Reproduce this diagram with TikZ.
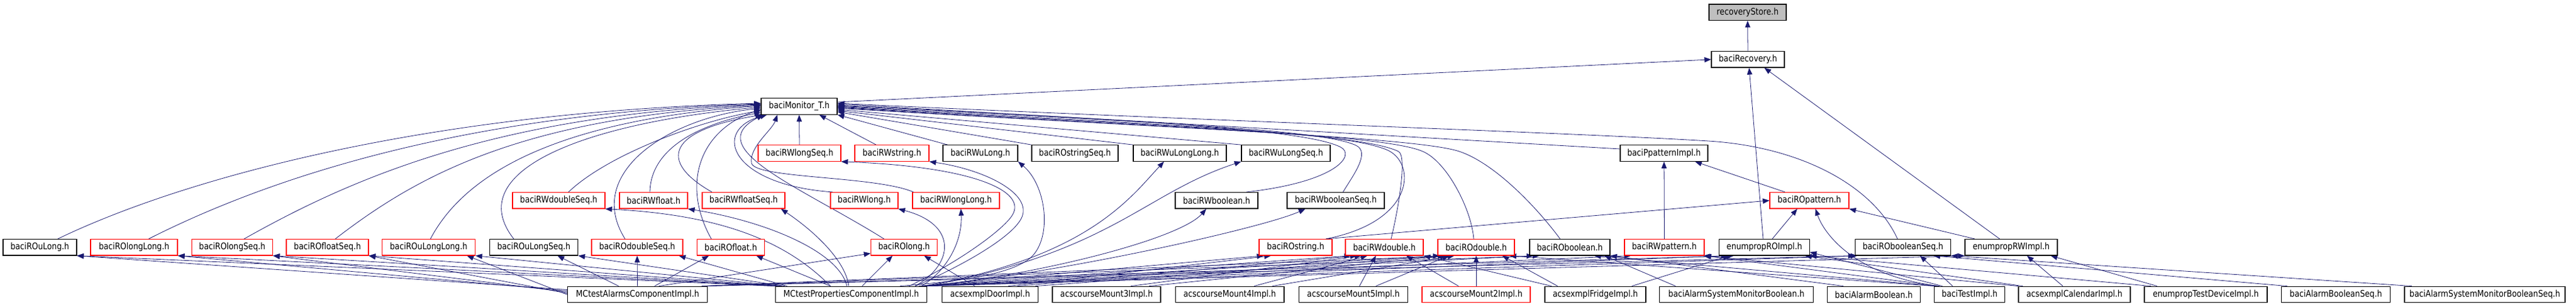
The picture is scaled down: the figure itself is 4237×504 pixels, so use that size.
\documentclass[tikz,border=0pt]{standalone}
\usepackage{fontspec}
\newfontfamily\nodefont[FakeStretch=0.85]{DejaVu Sans}
\usetikzlibrary{arrows.meta}
\definecolor{edgec}{HTML}{191970}
\definecolor{nodered}{HTML}{FF0000}
\definecolor{rootgray}{HTML}{BFBFBF}
\pgfdeclarelayer{background}
\pgfsetlayers{background,main}
\tikzset{
  box/.style={draw=black, fill=white, line width=1.2pt, minimum height=26.5pt, inner sep=0pt,
    font={\nodefont\fontsize{15pt}{18pt}\selectfont}, text=black},
  redbox/.style={box, draw=nodered},
  rootbox/.style={box, fill=rootgray},
  inc/.style={{Triangle[length=11pt,width=8.5pt]}-, draw=edgec, line width=0.8pt},
}
\begin{document}
\begin{tikzpicture}[x=1pt,y=1pt]
\useasboundingbox (0,0) rectangle (4237,504);

% ---------- row 0 - 2
\node[rootbox, minimum width=127pt] (rstore) at (2874.5,483.7) {recoveryStore.h};
\node[box, minimum width=120pt] (recov) at (2875,406.2) {baciRecovery.h};
\node[box, minimum width=125pt] (mon) at (1314.5,329) {baciMonitor\_T.h};

% ---------- row 3
\node[redbox, minimum width=136pt] (rwlongseq) at (1315,252) {baciRWlongSeq.h};
\node[redbox, minimum width=122pt] (rwstring) at (1467,252) {baciRWstring.h};
\node[box, minimum width=123pt] (rwulong) at (1612.5,252) {baciRWuLong.h};
\node[box, minimum width=142pt] (rostringseq) at (1768,252) {baciROstringSeq.h};
\node[box, minimum width=153pt] (rwulonglong) at (1940.5,252) {baciRWuLongLong.h};
\node[box, minimum width=146pt] (rwulongseq) at (2115,252) {baciRWuLongSeq.h};
\node[box, minimum width=144pt] (ppimpl) at (2737,252) {baciPpatternImpl.h};

% ---------- row 4
\node[redbox, minimum width=152pt] (rwdoubleseq) at (919,174.2) {baciRWdoubleSeq.h};
\node[redbox, minimum width=112pt] (rwfloat) at (1075,174.2) {baciRWfloat.h};
\node[redbox, minimum width=136pt] (rwfloatseq) at (1223,174.2) {baciRWfloatSeq.h};
\node[redbox, minimum width=111pt] (rwlong) at (1421.5,174.2) {baciRWlong.h};
\node[redbox, minimum width=143pt] (rwlonglong) at (1572.5,174.2) {baciRWlongLong.h};
\node[box, minimum width=136pt] (rwboolean) at (2001,174.2) {baciRWboolean.h};
\node[box, minimum width=160pt] (rwbooleanseq) at (2197,174.2) {baciRWbooleanSeq.h};
\node[redbox, minimum width=130pt] (ropattern) at (2976,174.2) {baciROpattern.h};

% ---------- row 5
\node[box, minimum width=121pt] (rouLong) at (65.5,97.2) {baciROuLong.h};
\node[redbox, minimum width=143pt] (rolonglong) at (220.5,97.2) {baciROlongLong.h};
\node[redbox, minimum width=133pt] (rolongseq) at (382,97.2) {baciROlongSeq.h};
\node[redbox, minimum width=135pt] (rofloatseq) at (538.5,97.2) {baciROfloatSeq.h};
\node[redbox, minimum width=153pt] (roulonglong) at (705,97.2) {baciROuLongLong.h};
\node[box, minimum width=145pt] (roulongseq) at (878,97.2) {baciROuLongSeq.h};
\node[redbox, minimum width=150pt] (rodoubleseq) at (1048,97.2) {baciROdoubleSeq.h};
\node[redbox, minimum width=110.5pt] (rofloat) at (1202,97.2) {baciROfloat.h};
\node[redbox, minimum width=109pt] (rolong) at (1487,97.2) {baciROlong.h};
\node[redbox, minimum width=120pt] (rostring) at (2131,97.2) {baciROstring.h};
\node[redbox, minimum width=128pt] (rwdouble) at (2277,97.2) {baciRWdouble.h};
\node[redbox, minimum width=126pt] (rodouble) at (2428,97.2) {baciROdouble.h};
\node[box, minimum width=132pt] (roboolean) at (2582,97.2) {baciROboolean.h};
\node[redbox, minimum width=131pt] (rwpattern) at (2737.5,97.2) {baciRWpattern.h};
\node[box, minimum width=148.5pt] (enumro) at (2902,97.2) {enumpropROImpl.h};
\node[box, minimum width=157pt] (robooleanseq) at (3130,97.2) {baciRObooleanSeq.h};
\node[box, minimum width=152pt] (enumrw) at (3308,97.2) {enumpropRWImpl.h};

% ---------- row 6
\node[box, minimum width=230pt] (mcalarms) at (1048.6,19.5) {MCtestAlarmsComponentImpl.h};
\node[box, minimum width=249.5pt] (mcprops) at (1400,19.5) {MCtestPropertiesComponentImpl.h};
\node[box, minimum width=158pt] (door) at (1628.4,19.5) {acsexmplDoorImpl.h};
\node[box, minimum width=178pt] (mount3) at (1820,19.5) {acscourseMount3Impl.h};
\node[box, minimum width=178.6pt] (mount4) at (2022.7,19.5) {acscourseMount4Impl.h};
\node[box, minimum width=179pt] (mount5) at (2226,19.5) {acscourseMount5Impl.h};
\node[redbox, minimum width=178pt] (mount2) at (2428,19.5) {acscourseMount2Impl.h};
\node[box, minimum width=166pt] (fridge) at (2624,19.5) {acsexmplFridgeImpl.h};
\node[box, minimum width=253pt] (asmbool) at (2856,19.5) {baciAlarmSystemMonitorBoolean.h};
\node[box, minimum width=153pt] (alarmbool) at (3082,19.5) {baciAlarmBoolean.h};
\node[box, minimum width=116pt] (testimpl) at (3239.7,19.5) {baciTestImpl.h};
\node[box, minimum width=184pt] (calendar) at (3412,19.5) {acsexmplCalendarImpl.h};
\node[box, minimum width=202pt] (enumtest) at (3628,19.5) {enumpropTestDeviceImpl.h};
\node[box, minimum width=179.5pt] (alarmboolseq) at (3842,19.5) {baciAlarmBooleanSeq.h};
\node[box, minimum width=264pt] (asmboolseq) at (4087,19.5) {baciAlarmSystemMonitorBooleanSeq.h};

\begin{pgfonlayer}{background}
% top chain
\draw[inc] (rstore.south) -- (recov.north);
\draw[inc] (recov.west) -- ([yshift=7pt]mon.east);
\draw[inc] ([xshift=2pt]recov.south) -- ([xshift=-2pt]enumro.north);
\draw[inc] ([xshift=27pt]recov.south) -- ([xshift=-19pt]enumrw.north);

% monitor, left side
\draw[inc] ([yshift=5pt]mon.west) .. controls (700,320) and (300,210) .. ([xshift=29.5pt]rouLong.north);
\draw[inc] ([yshift=4pt]mon.west) .. controls (750,318) and (430,205) .. ([xshift=24pt]rolonglong.north);
\draw[inc] ([yshift=3pt]mon.west) .. controls (800,315) and (560,200) .. ([xshift=19.5pt]rolongseq.north);
\draw[inc] ([yshift=2pt]mon.west) .. controls (850,310) and (680,210) .. ([xshift=13pt]rofloatseq.north);
\draw[inc] ([yshift=1pt]mon.west) .. controls (900,305) and (760,210) .. ([xshift=3pt]roulonglong.north);
\draw[inc] ([yshift=-1pt]mon.west) .. controls (950,300) and (760,220) .. ([xshift=-33pt]roulongseq.north);
\draw[inc] ([yshift=-3pt]mon.west) .. controls (1100,310) and (960,220) .. ([xshift=-20pt]rodoubleseq.north);
\draw[inc] ([yshift=-5pt]mon.west) .. controls (1150,290) and (1120,200) .. ([xshift=-32pt]rofloat.north);
\draw[inc] ([yshift=-7pt]mon.west) .. controls (1150,305) and (1000,250) .. ([xshift=16pt]rwdoubleseq.north);
\draw[inc] ([yshift=-10pt]mon.west) .. controls (1150,300) and (1070,260) .. ([xshift=-6pt]rwfloat.north);
\draw[inc] ([xshift=2pt]mon.south west) .. controls (1100,290) and (1080,240) .. ([xshift=-52pt]rwfloatseq.north);
\draw[inc] ([xshift=4pt]mon.south west) .. controls (1150,260) and (1320,195) .. ([xshift=-33pt]rolong.north);
\draw[inc] ([xshift=10pt]mon.south west) .. controls (1170,290) and (1200,200) .. ([xshift=-52pt]rwlong.north);
\draw[inc] ([xshift=-36pt]mon.south) .. controls (1270,290) and (1232,262) .. (1236,236) .. controls (1240,210) and (1440,215) .. ([xshift=-70pt]rwlonglong.north);

% monitor, bottom and right side
\draw[inc] (mon.south) -- (rwlongseq.north);
\draw[inc] ([xshift=33pt]mon.south) -- ([xshift=-26pt]rwstring.north);
\draw[inc] (mon.south east) -- ([xshift=-54pt]rwulong.north);
\draw[inc] ([yshift=-9pt]mon.east) -- (rostringseq.north west);
\draw[inc] ([yshift=-7pt]mon.east) -- (rwulonglong.north west);
\draw[inc] ([yshift=-5pt]mon.east) -- (rwulongseq.north west);
\draw[inc] ([yshift=4pt]mon.east) -- ([yshift=7pt]ppimpl.west);
\draw[inc] ([yshift=5pt]mon.east) .. controls (2000,305) and (2600,285) .. (2810,272) .. controls (2960,262.7) and (3080,200) .. ([xshift=-9pt]robooleanseq.north);
\draw[inc] ([yshift=2pt]mon.east) .. controls (1900,305) and (2150,290) .. (2205,262) .. controls (2230,249.3) and (2200,205) .. ([xshift=49pt]rwboolean.north);
\draw[inc] ([yshift=1pt]mon.east) .. controls (1900,302) and (2170,292) .. (2230,265) .. controls (2255,253.7) and (2225,215) .. ([xshift=12pt]rwbooleanseq.north);
\draw[inc] (mon.east) .. controls (1900,298) and (2200,290) .. (2280,258) .. controls (2330,238) and (2330,140) .. ([xshift=50pt]rostring.north);
\draw[inc] ([yshift=-1pt]mon.east) .. controls (1900,296) and (2230,288) .. (2300,255) .. controls (2315,248) and (2300,160) .. ([xshift=11pt]rwdouble.north);
\draw[inc] ([yshift=-2pt]mon.east) .. controls (1900,294) and (2270,285) .. (2340,255) .. controls (2380,238) and (2420,160) .. ([xshift=-4pt]rodouble.north);
\draw[inc] ([yshift=-3pt]mon.east) .. controls (1950,292) and (2330,278) .. (2400,255) .. controls (2460,235) and (2530,160) .. ([xshift=-16pt]roboolean.north);

% pattern group
\draw[inc] ([xshift=51pt]ppimpl.south) -- ([xshift=-40pt]ropattern.north);
\draw[inc] (ppimpl.south) -- (rwpattern.north);
\draw[inc] (ropattern.west) -- ([xshift=50pt]rostring.north);
\draw[inc] ([xshift=-20pt]ropattern.south) -- ([xshift=13pt]enumro.north);
\draw[inc] (ropattern.south east) -- ([xshift=-60pt]enumrw.north);
\draw[inc] ([xshift=10pt]ropattern.south) .. controls (3000,120) and (3050,50) .. ([xshift=-50pt]testimpl.north);

% MCtest components -> left row
\draw[inc] (rouLong.south east) -- ([yshift=8pt]mcalarms.west);
\draw[inc] (rouLong.south east) -- (mcprops.north west);
\draw[inc] (rolonglong.south east) -- ([yshift=6pt]mcalarms.west);
\draw[inc] (rolonglong.south east) -- ([xshift=3pt]mcprops.north west);
\draw[inc] (rolongseq.south east) -- ([yshift=4pt]mcalarms.west);
\draw[inc] (rolongseq.south east) -- ([xshift=6pt]mcprops.north west);
\draw[inc] (rofloatseq.south east) -- ([yshift=2pt]mcalarms.west);
\draw[inc] (rofloatseq.south east) -- ([xshift=9pt]mcprops.north west);
\draw[inc] ([xshift=-14pt]roulonglong.south east) -- (mcalarms.west);
\draw[inc] (roulonglong.south east) -- ([xshift=12pt]mcprops.north west);
\draw[inc] ([xshift=39pt]roulongseq.south) -- ([xshift=-31pt]mcalarms.north);
\draw[inc] (roulongseq.south east) -- ([xshift=16pt]mcprops.north west);
\draw[inc] (rodoubleseq.south) -- (mcalarms.north);
\draw[inc] ([xshift=-7pt]rodoubleseq.south east) -- ([xshift=20pt]mcprops.north west);
\draw[inc] ([xshift=-36pt]rofloat.south) -- ([xshift=28pt]mcalarms.north);
\draw[inc] ([xshift=-14pt]rofloat.south east) -- ([xshift=-34pt]mcprops.north);
\draw[inc] ([yshift=-10pt]rolong.west) -- ([xshift=35pt]mcalarms.north);
\draw[inc] ([xshift=-19pt]rolong.south) -- ([xshift=18pt]mcprops.north);
\draw[inc] ([xshift=33pt]rolong.south) -- ([xshift=-25pt]door.north);

% MCtestProperties -> RW rows
\draw[inc] (rwdoubleseq.south east) .. controls (1200,150) and (1300,100) .. ([xshift=-34pt]mcprops.north);
\draw[inc] (rwfloat.south east) .. controls (1260,140) and (1380,90) .. ([xshift=-7pt]mcprops.north);
\draw[inc] ([xshift=-7pt]rwfloatseq.south east) .. controls (1330,130) and (1390,80) .. ([xshift=-4pt]mcprops.north);
\draw[inc] (rwlong.south east) .. controls (1575,135) and (1570,70) .. ([xshift=105pt]mcprops.north);
\draw[inc] ([xshift=8pt]rwlonglong.south) .. controls (1583,110) and (1560,60) .. ([xshift=-10pt]mcprops.north east);
\draw[inc] (rwlongseq.south east) .. controls (1600,230) and (1690,190) .. (1665,150) .. controls (1650,126) and (1580,75) .. ([xshift=-30pt]mcprops.north east);
\draw[inc] (rwstring.south east) .. controls (1620,225) and (1700,185) .. (1680,145) .. controls (1665,115) and (1590,70) .. ([xshift=-20pt]mcprops.north east);
\draw[inc] (rwulong.south east) .. controls (1720,200) and (1730,120) .. (1700,85) .. controls (1670,50) and (1560,40) .. ([xshift=-45pt]mcprops.north east);
\draw[inc] ([xshift=-26pt]rwulonglong.south) .. controls (1860,180) and (1790,80) .. ([xshift=-8pt]mcprops.north east);
\draw[inc] (rwulongseq.south west) .. controls (1880,185) and (1830,90) .. (mcprops.north east);
\draw[inc] ([xshift=-17pt]rwboolean.south) .. controls (1940,110) and (1700,50) .. ([xshift=-5pt]mcprops.north east);
\draw[inc] ([xshift=-50pt]rwbooleanseq.south) .. controls (2080,130) and (1750,55) .. ([xshift=-2pt]mcprops.north east);

% MCtest components -> right row
\draw[inc] ([xshift=-40pt]rodouble.south) -- ([xshift=-10pt]mcalarms.north east);
\draw[inc] ([xshift=-50pt]roboolean.south) -- ([xshift=-8pt]mcalarms.north east);
\draw[inc] (robooleanseq.south west) -- ([xshift=-6pt]mcalarms.north east);
\draw[inc] ([xshift=-50pt]enumro.south) -- ([xshift=-4pt]mcalarms.north east);
\draw[inc] ([xshift=8pt]rostring.south west) -- ([xshift=-14pt]mcprops.north east);
\draw[inc] ([xshift=-55pt]rwdouble.south) -- ([xshift=-12pt]mcprops.north east);
\draw[inc] ([xshift=-60pt]rodouble.south) -- ([xshift=-9pt]mcprops.north east);
\draw[inc] ([xshift=-60pt]roboolean.south) -- ([xshift=-6pt]mcprops.north east);
\draw[inc] ([xshift=-55pt]rwpattern.south) -- ([xshift=-4pt]mcprops.north east);
\draw[inc] ([xshift=-60pt]enumro.south) -- ([xshift=-2pt]mcprops.north east);
\draw[inc] ([xshift=4pt]robooleanseq.south west) -- (mcprops.north east);
\draw[inc] (enumrw.south west) -- ([xshift=-1pt]mcprops.north east);

% door, mounts, fridge
\draw[inc] ([xshift=20pt]rostring.south west) -- ([xshift=30pt]door.north);
\draw[inc] ([xshift=-45pt]rwdouble.south) -- ([xshift=45pt]door.north);
\draw[inc] ([xshift=-52pt]rodouble.south) -- ([xshift=-5pt]door.north east);
\draw[inc] ([xshift=-38pt]rwdouble.south) -- ([xshift=40pt]mount3.north);
\draw[inc] ([xshift=-48pt]rodouble.south) -- ([xshift=70pt]mount3.north);
\draw[inc] ([xshift=-28pt]rwdouble.south) -- ([xshift=40pt]mount4.north);
\draw[inc] ([xshift=-36pt]rodouble.south) -- ([xshift=70pt]mount4.north);
\draw[inc] ([xshift=-14pt]rwdouble.south) -- ([xshift=10pt]mount5.north);
\draw[inc] ([xshift=-45pt]rodouble.south) -- ([xshift=37pt]mount5.north);
\draw[inc] (rodouble.south) -- (mount2.north);
\draw[inc] ([xshift=36pt]rwdouble.south) -- ([xshift=-29pt]mount2.north);
\draw[inc] ([xshift=43pt]rodouble.south) -- ([xshift=-62pt]fridge.north);
\draw[inc] (rwdouble.south east) -- ([xshift=-72pt]fridge.north);
\draw[inc] ([xshift=-57pt]enumro.south) -- ([xshift=60pt]fridge.north);

% boolean alarms, test impl, calendar, enum test
\draw[inc] ([xshift=57pt]roboolean.south) -- ([xshift=-100pt]asmbool.north);
\draw[inc] (roboolean.south east) -- ([xshift=-50pt]alarmbool.north);
\draw[inc] ([xshift=28pt]robooleanseq.south) -- ([xshift=-28pt]testimpl.north);
\draw[inc] ([xshift=40pt]roboolean.south) -- ([xshift=-55pt]testimpl.north);
\draw[inc] ([xshift=55pt]rodouble.south) -- ([xshift=-57pt]testimpl.north);
\draw[inc] (rwpattern.south east) -- ([xshift=-52pt]testimpl.north);
\draw[inc] ([yshift=-8pt]enumro.east) -- ([xshift=-45pt]testimpl.north);
\draw[inc] ([xshift=26pt]enumrw.south) -- ([xshift=-19pt]calendar.north);
\draw[inc] ([xshift=-8pt]enumro.south east) -- ([xshift=-85pt]calendar.north);
\draw[inc] ([xshift=-2pt]rwpattern.south east) -- (calendar.north west);
\draw[inc] ([xshift=65pt]enumrw.south) -- ([xshift=-80pt]enumtest.north);
\draw[inc] (enumro.south east) -- ([xshift=-90pt]enumtest.north);
\draw[inc] ([xshift=50pt]robooleanseq.south) -- ([xshift=-80pt]alarmboolseq.north);
\draw[inc] (robooleanseq.south east) -- ([xshift=-120pt]asmboolseq.north);
\end{pgfonlayer}
\end{tikzpicture}
\end{document}
